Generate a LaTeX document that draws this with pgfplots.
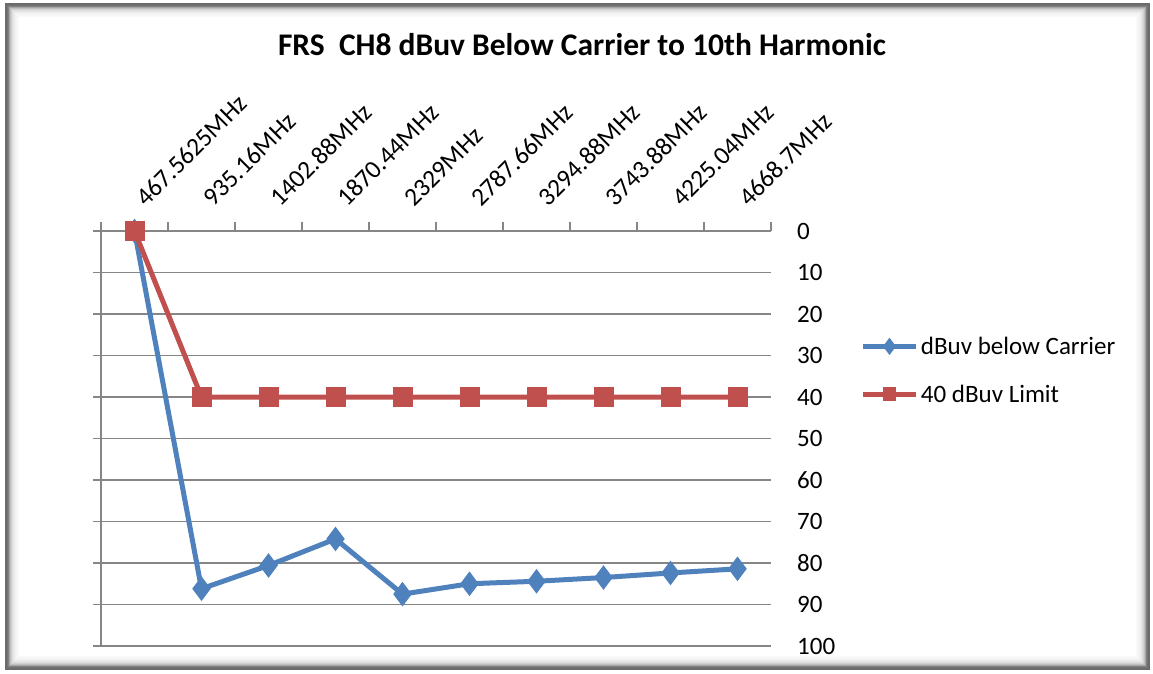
\documentclass[border=0pt]{standalone}
\usepackage{fontspec}
\setmainfont{Carlito}
\usepackage{pgfplots}
\pgfplotsset{compat=1.18}
\definecolor{exblue}{HTML}{4F81BD}
\definecolor{exred}{HTML}{C0504D}
\definecolor{gridc}{HTML}{868686}
\begin{document}
\begin{tikzpicture}[x=1pt,y=1pt]
\begin{axis}[
  scale only axis, width=670pt, height=415pt,
  xmin=-0.5, xmax=9.5, ymin=0, ymax=100,
  y dir=reverse,
  clip=false,
  axis line style={draw=none},
  major tick length=0pt,
  xtick={0,...,9},
  xticklabels={467.5625MHz,935.16MHz,1402.88MHz,1870.44MHz,2329MHz,2787.66MHz,3294.88MHz,3743.88MHz,4225.04MHz,4668.7MHz},
  xticklabel pos=upper,
  xticklabel style={xshift=12pt, yshift=23pt, rotate=45, anchor=south west, font=\fontsize{25.5}{29}\selectfont, inner sep=0pt},
  ytick={0,10,...,100},
  yticklabel pos=right,
  yticklabel style={xshift=26pt, anchor=west, font=\fontsize{25}{29}\selectfont, inner sep=0pt},
  /pgf/number format/assume math mode=true,
  ymajorgrids,
  grid style={gridc, line width=1.6pt},
  legend style={at={(axis description cs:1.134,0.75)}, anchor=north west, draw=none, fill=none,
    font=\fontsize{25}{29}\selectfont, row sep=25pt, inner sep=0pt,
    nodes={inner sep=2pt, anchor=west}},
  legend cell align=left,
  legend image code/.code={\draw[mark repeat=2,mark phase=2,#1,every mark/.append style={scale=0.68}] plot coordinates {(0pt,0pt)(26pt,0pt)(53pt,0pt)};},
]
\coordinate (TL) at (axis cs:-0.5,0);
\draw[gridc, line width=1.6pt] (axis cs:-0.5,0) -- (axis cs:-0.5,100);
\pgfplotsinvokeforeach{0,10,20,30,40,50,60,70,80,90,100}{
  \draw[gridc, line width=1.6pt] ([xshift=-8pt]axis cs:-0.5,#1) -- (axis cs:-0.5,#1);
}
\pgfplotsinvokeforeach{-0.5,0.5,1.5,2.5,3.5,4.5,5.5,6.5,7.5,8.5,9.5}{
  \draw[gridc, line width=1.6pt] (axis cs:#1,0) -- ([yshift=9pt]axis cs:#1,0);
}
\addplot[exblue, line width=5pt, mark=diamond*, mark size=11.5pt,
  mark options={solid, line width=1pt, fill=exblue}] coordinates {
  (0,0) (1,86.2) (2,80.6) (3,74.2) (4,87.5) (5,85.0) (6,84.4) (7,83.5) (8,82.4) (9,81.4)
};
\addlegendentry{dBuv below Carrier}
\addplot[exred, line width=5pt, mark=square*, mark size=9.5pt,
  mark options={solid, line width=1pt, fill=exred}] coordinates {
  (0,0) (1,40) (2,40) (3,40) (4,40) (5,40) (6,40) (7,40) (8,40) (9,40)
};
\addlegendentry{40 dBuv Limit}
\end{axis}
\begin{scope}[shift={(TL)}]
\path[use as bounding box] (-101,-442) rectangle (1052,231);
\foreach \i/\c in {0/58,1/58,2/55,3/50,4/35,5/25,6/18,7/13,8/10,9/7,10/5,11/4,12/3,13/2}{
  \draw[black!\c, line width=1pt] (-95.5+\i,-438.5+\i) rectangle (1048.5-\i,227.5-\i);
}
\node[font=\bfseries\fontsize{31.5}{36}\selectfont] at (481,186) {FRS~~CH8 dBuv Below Carrier to 10th Harmonic};
\end{scope}
\end{tikzpicture}
\end{document}
